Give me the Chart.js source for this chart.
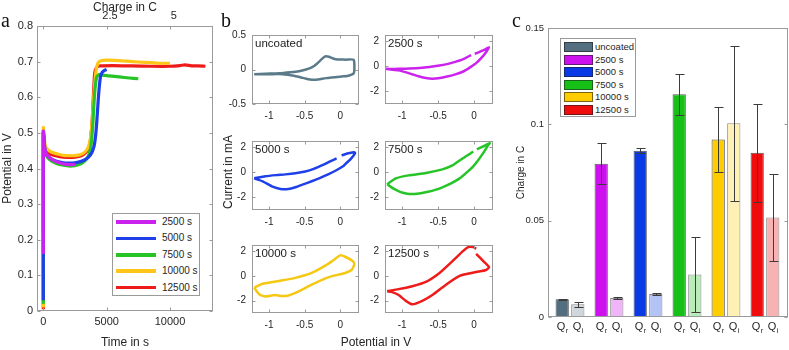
<!DOCTYPE html>
<html>
<head>
<meta charset="utf-8">
<script src="https://cdn.jsdelivr.net/npm/chart.js@4.4.1/dist/chart.umd.min.js"></script>
<style>
  html, body { margin: 0; padding: 0; background: #fff; }
  body { position: relative; width: 789px; height: 350px; overflow: hidden;
         font-family: "Liberation Sans", Arial, sans-serif; color: #262626; }
  canvas, .abs { position: absolute; }
  .letter { font-family: "Liberation Serif", serif; font-size: 20px; line-height: 1; color: #111; }
  .legend { position: absolute; background: #fff; border: 1px solid #9a9a9a; box-sizing: border-box; }
  .legend .sw, .legend .txt { position: absolute; white-space: nowrap; }
</style>
</head>
<body>
<canvas id="chartA" width="225" height="350" style="left:0;top:0"></canvas>
<canvas id="cvUnc" width="135" height="103" style="left:228px;top:23px"></canvas>
<canvas id="cv2500" width="136" height="103" style="left:361px;top:23px"></canvas>
<canvas id="cv5000" width="135" height="103" style="left:228px;top:129px"></canvas>
<canvas id="cv7500" width="136" height="103" style="left:361px;top:129px"></canvas>
<canvas id="cv10000" width="135" height="102" style="left:228px;top:233px"></canvas>
<canvas id="cv12500" width="136" height="102" style="left:361px;top:233px"></canvas>
<canvas id="chartC" width="279" height="350" style="left:510px;top:0"></canvas>

<div class="abs letter" style="left:1px;top:10px">a</div>
<div class="abs letter" style="left:221px;top:10px">b</div>
<div class="abs letter" style="left:512px;top:10px">c</div>
<div class="abs" style="left:228px;top:172px;transform:translate(-50%,-50%) rotate(-90deg);white-space:nowrap;font-size:12px">Current in mA</div>
<div class="abs" style="left:376px;top:342px;transform:translate(-50%,-50%);white-space:nowrap;font-size:12px">Potential in V</div>
<div id="legA" class="legend" style="left:112px;top:213px;width:88px;height:83px"></div>
<div id="legC" class="legend" style="left:560px;top:38px;width:76px;height:79px"></div>

<script>
// ---------- panel a: potential vs time ----------
const aNames = ['2500 s', '5000 s', '7500 s', '10000 s', '12500 s'];
const aColors = ['#cc22ee', '#1f3fe8', '#26c426', '#ffc61a', '#ee1b1b'];

const t2500 = [0, 0, 40, 120, 250, 500, 800, 1200, 1600, 2000, 2300, 2500];
const v2500 = [0.16, 0.505, 0.49, 0.455, 0.44, 0.43, 0.423, 0.417, 0.413, 0.411, 0.411, 0.412];

const t5000 = [0, 0, 40, 120, 250, 500, 800, 1200, 1600, 2000, 2500, 3000, 3400, 3700, 3900, 4050, 4200, 4350, 4500, 4650, 4800, 5000];
const v5000 = [0.03, 0.50, 0.488, 0.455, 0.44, 0.43, 0.424, 0.419, 0.416, 0.415, 0.416, 0.42, 0.427, 0.437, 0.45, 0.47, 0.52, 0.6, 0.655, 0.67, 0.675, 0.678];

const t7500 = [0, 0, 40, 120, 250, 500, 800, 1200, 1600, 2000, 2500, 3000, 3300, 3550, 3750, 3900, 4050, 4200, 4400, 4700, 5200, 6000, 6800, 7500];
const v7500 = [0.02, 0.50, 0.485, 0.45, 0.435, 0.425, 0.418, 0.412, 0.409, 0.407, 0.408, 0.414, 0.422, 0.435, 0.46, 0.52, 0.61, 0.655, 0.664, 0.662, 0.66, 0.657, 0.654, 0.652];

const t10000 = [0, 0, 40, 120, 250, 500, 800, 1200, 1600, 2000, 2500, 3000, 3300, 3550, 3700, 3850, 4000, 4150, 4300, 4500, 5000, 6000, 7000, 8000, 9000, 10000];
const v10000 = [0.01, 0.515, 0.5, 0.47, 0.457, 0.449, 0.444, 0.44, 0.437, 0.436, 0.436, 0.44, 0.447, 0.46, 0.48, 0.53, 0.61, 0.67, 0.695, 0.702, 0.704, 0.703, 0.7, 0.698, 0.696, 0.695];

const t12500 = [0, 0, 40, 120, 250, 500, 800, 1200, 1600, 2000, 2500, 3000, 3300, 3550, 3700, 3850, 3950, 4050, 4200, 4500, 5500, 7000, 8500, 10000, 10800, 11200, 11700, 12200, 12800];
const v12500 = [0.005, 0.505, 0.49, 0.46, 0.448, 0.441, 0.437, 0.434, 0.432, 0.431, 0.432, 0.436, 0.443, 0.455, 0.475, 0.53, 0.6, 0.665, 0.684, 0.688, 0.689, 0.688, 0.687, 0.687, 0.689, 0.691, 0.688, 0.688, 0.687];

const aTimeTicks = [0, 5000, 10000];
const aChargeTicks = [2.5, 5];
const aPotTicks = [0, 0.1, 0.2, 0.3, 0.4, 0.5, 0.6, 0.7, 0.8];

// ---------- panel b: cyclic voltammograms ----------
const cvXTicks = [-1, -0.5, 0];
const cvYTicksUnc = [-0.5, 0, 0.5];
const cvYTicks = [-2, 0, 2];

const cvUncX = [-1.21, -1.05, -0.86, -0.70, -0.58, -0.48, -0.40, -0.33, -0.27, -0.21, -0.16, -0.10, -0.03, 0.08, 0.19, 0.20, 0.19, 0.16, 0.10, 0.02, -0.08, -0.20, -0.35, -0.45, -0.55, -0.65, -0.81, -1.00, -1.21];
const cvUncY = [-0.07, -0.062, -0.055, -0.04, -0.025, 0.0, 0.03, 0.08, 0.14, 0.19, 0.185, 0.16, 0.145, 0.143, 0.14, 0.0, -0.055, -0.075, -0.095, -0.10, -0.112, -0.125, -0.15, -0.14, -0.115, -0.09, -0.068, -0.068, -0.07];

const cv2500X = [-1.23, -1.05, -0.90, -0.76, -0.62, -0.48, -0.36, -0.25, -0.14, -0.04, null, 0.01, 0.08, 0.15, 0.21, 0.17, 0.10, 0.03, -0.06, -0.15, -0.27, -0.39, -0.50, -0.58, -0.67, -0.76, -0.85, -0.93, -1.05, -1.23];
const cv2500Y = [-0.2, -0.2, -0.17, -0.13, -0.05, 0.07, 0.2, 0.38, 0.6, 0.9, null, 1.0, 1.16, 1.33, 1.52, 1.15, 0.65, 0.26, -0.1, -0.41, -0.66, -0.83, -0.95, -0.98, -0.93, -0.81, -0.65, -0.5, -0.32, -0.2];

const cv5000X = [-1.21, -1.05, -0.90, -0.77, -0.63, -0.49, -0.37, -0.26, -0.15, -0.05, null, 0.02, 0.10, 0.19, 0.21, 0.15, 0.08, 0.04, -0.06, -0.17, -0.28, -0.40, -0.52, -0.63, -0.73, -0.84, -0.95, -1.09, -1.21];
const cv5000Y = [-0.48, -0.31, -0.22, -0.16, -0.07, 0.07, 0.28, 0.55, 0.85, 1.12, null, 1.35, 1.5, 1.6, 1.55, 1.07, 0.7, 0.48, 0.15, -0.16, -0.44, -0.71, -0.96, -1.19, -1.33, -1.32, -1.14, -0.71, -0.48];

const cv7500X = [-1.21, -1.09, -0.91, -0.67, -0.44, -0.30, -0.20, -0.10, -0.01, null, 0.04, 0.12, 0.22, 0.20, 0.13, 0.05, -0.01, -0.10, -0.20, -0.32, -0.44, -0.54, -0.64, -0.74, -0.83, -0.93, -1.03, -1.12, -1.21];
const cv7500Y = [-0.95, -0.48, -0.24, -0.05, 0.24, 0.55, 0.95, 1.32, 1.66, null, 1.85, 2.05, 2.33, 2.2, 1.55, 0.9, 0.48, 0.0, -0.48, -0.88, -1.19, -1.4, -1.55, -1.66, -1.72, -1.7, -1.55, -1.3, -0.95];

const cv10000X = [-1.21, -1.09, -0.86, -0.63, -0.40, -0.21, -0.10, 0.0, 0.07, 0.18, 0.20, 0.16, 0.07, -0.17, -0.40, -0.63, -0.74, -0.84, -0.91, -0.98, -1.05, -1.14, -1.21];
const cv10000Y = [-0.95, -0.64, -0.41, -0.16, 0.24, 0.83, 1.25, 1.66, 1.55, 1.19, 0.95, 0.48, 0.24, -0.12, -0.71, -1.38, -1.6, -1.62, -1.55, -1.6, -1.66, -1.48, -0.95];

const cv12500X = [-1.21, -1.05, -0.86, -0.67, -0.48, -0.30, -0.15, -0.08, -0.01, 0.03, null, 0.03, 0.13, 0.21, 0.17, 0.03, -0.20, -0.39, -0.58, -0.72, -0.86, -0.95, -1.05, -1.14, -1.21];
const cv12500Y = [-1.24, -1.07, -0.83, -0.48, 0.24, 1.19, 2.02, 2.33, 2.33, 2.19, null, 1.79, 1.19, 0.71, 0.48, 0.31, 0.0, -0.71, -1.55, -2.02, -2.3, -2.02, -1.55, -1.31, -1.24];

// ---------- panel c: charges ----------
const cLabels = ['uncoated', '2500 s', '5000 s', '7500 s', '10000 s', '12500 s'];
const qrColors = ['#536e7e', '#cc11ee', '#0a3ae6', '#16c016', '#ffcc00', '#ee0c0c'];
const qiColors = ['#cfd7dd', '#f0b4f8', '#b4c3f6', '#b9ecb9', '#fff0b6', '#f7b3b3'];
const qr = [0.0092, 0.0796, 0.0863, 0.1156, 0.0921, 0.0853];
const qrErr = [0.0003, 0.0105, 0.0012, 0.0107, 0.0168, 0.0255];
const qi = [0.0066, 0.0099, 0.0119, 0.0221, 0.1005, 0.0516];
const qiErr = [0.0012, 0.0003, 0.0003, 0.0193, 0.0403, 0.0225];
const cYTicks = [0, 0.05, 0.1, 0.15];

// -------------------------
// defaults + shared plugins
// -------------------------
const FONT = '"Liberation Sans", Arial, sans-serif';
Chart.defaults.font.family = FONT;
Chart.defaults.color = '#262626';
Chart.defaults.animation = false;
Chart.defaults.events = [];
Chart.defaults.plugins.legend.display = false;
Chart.defaults.plugins.tooltip.enabled = false;

// MATLAB-like box with inward ticks
const framePlugin = {
  id: 'frame',
  afterDatasetsDraw(chart, args, opts) {
    const { ctx, chartArea: a } = chart;
    const L = Math.round(a.left) + 0.5, R = Math.round(a.right) - 0.5;
    const T = Math.round(a.top) + 0.5, B = Math.round(a.bottom) - 0.5;
    const tl = 3;
    ctx.save();
    ctx.strokeStyle = '#9a9a9a';
    ctx.lineWidth = 1;
    ctx.beginPath();
    if (!opts.noX) {
      const xs = chart.scales.x;
      xs.ticks.forEach(t => {
        const p = Math.round(xs.getPixelForValue(t.value)) + 0.5;
        ctx.moveTo(p, B); ctx.lineTo(p, B - tl);
        ctx.moveTo(p, T); ctx.lineTo(p, T + tl);
      });
    }
    const ys = chart.scales.y;
    ys.ticks.forEach(t => {
      const p = Math.round(ys.getPixelForValue(t.value)) + 0.5;
      ctx.moveTo(L, p); ctx.lineTo(L + tl, p);
      ctx.moveTo(R, p); ctx.lineTo(R - tl, p);
    });
    ctx.stroke();
    ctx.strokeRect(L, T, R - L, B - T);
    ctx.restore();
  }
};

// small label in the top-left corner of a plot
const tagPlugin = {
  id: 'tag',
  afterDraw(chart, args, opts) {
    if (!opts.text) return;
    const { ctx, chartArea: a } = chart;
    ctx.save();
    ctx.font = '11.5px ' + FONT;
    ctx.fillStyle = '#1a1a1a';
    ctx.textBaseline = 'top';
    ctx.fillText(opts.text, a.left + 3, a.top + 3);
    ctx.restore();
  }
};
Chart.register(framePlugin, tagPlugin);

function axis(o) {
  const horiz = o.position === 'bottom' || o.position === 'top';
  return {
    type: 'linear', position: o.position, min: o.min, max: o.max, offset: false,
    grid: { display: false, drawTicks: false }, border: { display: false },
    afterBuildTicks: s => { s.ticks = o.ticks.map(v => ({ value: v })); },
    afterFit: s => { if (horiz) s.height = o.size; else s.width = o.size; },
    ticks: { display: o.showTicks !== false, font: { size: o.fontSize }, padding: o.pad,
             maxRotation: 0, autoSkip: false, callback: v => String(v) },
    title: { display: !!o.title, text: o.title, font: { size: o.titleSize || 12 },
             padding: { top: o.titlePad || 0, bottom: 0 } }
  };
}

// -------------------------
// PANEL A
// -------------------------
const aT = [t2500, t5000, t7500, t10000, t12500];
const aV = [v2500, v5000, v7500, v10000, v12500];

new Chart(document.getElementById('chartA'), {
  type: 'scatter',
  data: {
    datasets: aNames.map((name, i) => ({
      label: name,
      data: aT[i].map((t, j) => ({ x: t, y: aV[i][j] })),
      showLine: true,
      borderColor: aColors[i],
      borderWidth: 3.2,
      pointRadius: 0,
      tension: 0.2
    }))
  },
  options: {
    responsive: false,
    layout: { padding: { right: 12 } },
    scales: {
      x: axis({ position: 'bottom', min: -500, max: 13400, ticks: aTimeTicks, size: 39, fontSize: 11, pad: 4, title: 'Time in s' }),
      x2: axis({ position: 'top', min: -0.357, max: 6.538, ticks: aChargeTicks, size: 26, fontSize: 11, pad: 3, title: 'Charge in C' }),
      y: axis({ position: 'left', min: 0, max: 0.8, ticks: aPotTicks, size: 37, fontSize: 11, pad: 4, title: 'Potential in V' })
    }
  }
});

// -------------------------
// PANEL B
// -------------------------
function cvChart(id, xs, ys, color, yMin, yMax, yTicks, tag) {
  return new Chart(document.getElementById(id), {
    type: 'scatter',
    data: {
      datasets: [{
        data: xs.map((x, i) => ({ x: x, y: ys[i] })),
        showLine: true,
        spanGaps: false,
        borderColor: color,
        borderWidth: 2.5,
        pointRadius: 0,
        tension: 0.2
      }]
    },
    options: {
      responsive: false,
      layout: { padding: { top: 4, right: 4 } },
      plugins: { tag: { text: tag } },
      scales: {
        x: axis({ position: 'bottom', min: -1.24, max: 0.265, ticks: cvXTicks, size: 22, fontSize: 10, pad: 6 }),
        y: axis({ position: 'left', min: yMin, max: yMax, ticks: yTicks, size: 24, fontSize: 10, pad: 6 })
      }
    }
  });
}

cvChart('cvUnc', cvUncX, cvUncY, '#5b7b8b', -0.5, 0.5, cvYTicksUnc, 'uncoated');
cvChart('cv2500', cv2500X, cv2500Y, aColors[0], -3, 2.5, cvYTicks, '2500 s');
cvChart('cv5000', cv5000X, cv5000Y, aColors[1], -3, 2.5, cvYTicks, '5000 s');
cvChart('cv7500', cv7500X, cv7500Y, aColors[2], -3, 2.5, cvYTicks, '7500 s');
cvChart('cv10000', cv10000X, cv10000Y, '#f5c814', -3, 2.5, cvYTicks, '10000 s');
cvChart('cv12500', cv12500X, cv12500Y, aColors[4], -3, 2.5, cvYTicks, '12500 s');

// -------------------------
// PANEL C
// -------------------------
const errorBars = {
  id: 'errorBars',
  afterDatasetsDraw(chart) {
    const { ctx } = chart;
    const ys = chart.scales.y;
    ctx.save();
    ctx.strokeStyle = '#3c3c3c';
    ctx.lineWidth = 1;
    chart.data.datasets.forEach((ds, di) => {
      chart.getDatasetMeta(di).data.forEach((bar, i) => {
        const v = ds.data[i].y, e = ds.errors[i];
        const x = Math.round(bar.x) + 0.5;
        const top = Math.round(ys.getPixelForValue(v + e)) + 0.5;
        const bot = Math.round(ys.getPixelForValue(v - e)) + 0.5;
        ctx.beginPath();
        ctx.moveTo(x, top); ctx.lineTo(x, bot);
        ctx.moveTo(x - 4, top); ctx.lineTo(x + 5, top);
        ctx.moveTo(x - 4, bot); ctx.lineTo(x + 5, bot);
        ctx.stroke();
      });
    });
    ctx.restore();
  }
};

// Q_r / Q_i labels under each bar
const qLabels = {
  id: 'qLabels',
  afterDraw(chart) {
    const { ctx } = chart;
    ctx.save();
    ctx.fillStyle = '#262626';
    ctx.textBaseline = 'alphabetic';
    chart.data.datasets.forEach((ds, di) => {
      chart.getDatasetMeta(di).data.forEach(bar => {
        ctx.font = '11px ' + FONT;
        const qw = ctx.measureText('Q').width;
        ctx.font = '7.5px ' + FONT;
        const sw = ctx.measureText(ds.sub).width;
        const x0 = bar.x - (qw + sw) / 2;
        ctx.font = '11px ' + FONT;
        ctx.fillText('Q', x0, 330);
        ctx.font = '7.5px ' + FONT;
        ctx.fillText(ds.sub, x0 + qw + 0.5, 333);
      });
    });
    ctx.restore();
  }
};

new Chart(document.getElementById('chartC'), {
  type: 'bar',
  data: {
    datasets: [
      { label: 'Q_r', sub: 'r', data: cLabels.map((_, i) => ({ x: i + 1, y: qr[i] })), errors: qrErr,
        backgroundColor: qrColors, borderColor: 'rgba(30,30,30,0.75)', borderWidth: 1,
        categoryPercentage: 0.8, barPercentage: 0.85 },
      { label: 'Q_i', sub: 'i', data: cLabels.map((_, i) => ({ x: i + 1, y: qi[i] })), errors: qiErr,
        backgroundColor: qiColors, borderColor: 'rgba(60,60,60,0.6)', borderWidth: 1,
        categoryPercentage: 0.8, barPercentage: 0.85 }
    ]
  },
  options: {
    responsive: false,
    layout: { padding: { top: 28, right: 1 } },
    plugins: { frame: { noX: true } },
    scales: {
      x: axis({ position: 'bottom', min: 0.436, max: 6.59, ticks: [], size: 33, fontSize: 9, pad: 3, showTicks: false }),
      y: axis({ position: 'left', min: 0, max: 0.15, ticks: cYTicks, size: 38, fontSize: 9.5, pad: 4, title: 'Charge in C', titleSize: 10, titlePad: 5 })
    }
  },
  plugins: [errorBars, qLabels]
});

// -------------------------
// HTML LEGENDS
// -------------------------
const legA = document.getElementById('legA');
aNames.forEach((name, i) => {
  const cy = 8 + i * 16.4;
  legA.insertAdjacentHTML('beforeend',
    `<div class="sw" style="left:3px;top:${cy - 1.75}px;width:40px;height:3.5px;background:${aColors[i]}"></div>` +
    `<div class="txt" style="left:49px;top:${cy - 6}px;font-size:10px;line-height:12px">${name}</div>`);
});

const legC = document.getElementById('legC');
cLabels.forEach((name, i) => {
  const cy = 8 + i * 12.6;
  legC.insertAdjacentHTML('beforeend',
    `<div class="sw" style="left:3px;top:${cy - 5}px;width:29px;height:10px;box-sizing:border-box;border:1px solid rgba(30,30,30,0.6);background:${qrColors[i]}"></div>` +
    `<div class="txt" style="left:34px;top:${cy - 6}px;font-size:9.5px;line-height:12px">${name}</div>`);
});
</script>
</body>
</html>
